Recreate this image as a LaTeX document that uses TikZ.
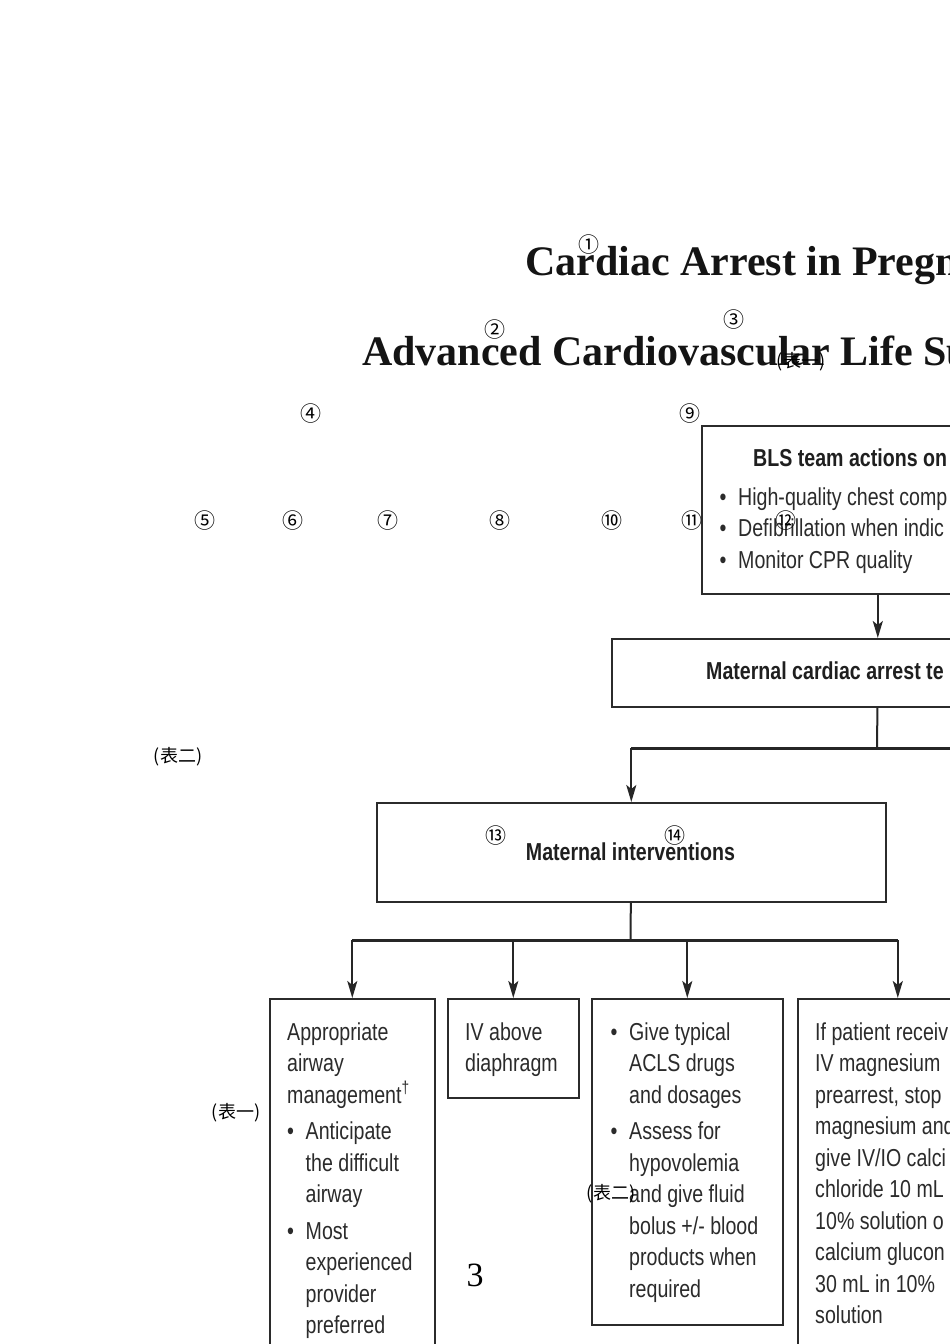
\documentclass[tikz,border=0pt]{standalone}
\usepackage{fontspec}
\usetikzlibrary{arrows.meta}
\newfontfamily\condf{Liberation Sans}[FakeStretch=0.8]
\newfontfamily\titlef{Liberation Serif}
\newfontfamily\cjkf{Noto Sans CJK SC}
\definecolor{inkc}{gray}{0.17}
\newcommand{\bodyf}{\condf\fontsize{24.5}{31.5}\selectfont}
\newcommand{\itm}{\makebox[18.5pt][l]{\textbullet}}
\newcommand{\ind}{\hspace*{18.5pt}}

\begin{document}
\begin{tikzpicture}[x=1pt,y=-1pt,
  box/.style={draw=inkc,line width=1.6pt,anchor=north west,inner sep=0pt},
  txt/.style={anchor=base west,inner sep=0pt,font=\bodyf,text=inkc},
  hdr/.style={txt,font=\bodyf\bfseries,text=black!88},
  ttl/.style={anchor=base west,inner sep=0pt,font=\titlef\bfseries\fontsize{42}{42}\selectfont,text=black!92},
  arr/.style={-{Stealth[length=17pt,width=10pt,inset=4pt]},line width=2pt,draw=black!85},
  conn/.style={line width=2pt,draw=black!85},
  bar/.style={line width=3pt,draw=black!85},
  numtag/.style={font=\cjkf\fontsize{21}{21}\selectfont,inner sep=0pt},
  tabtag/.style={font=\cjkf\fontsize{18}{18}\selectfont,inner sep=0pt}]
\useasboundingbox (0,0) rectangle (950,1344);
\clip (0,0) rectangle (950,1344);
\fill[white] (0,0) rectangle (950,1344);

\node[ttl] (title1) at (525,275) {Cardiac Arrest in Pregn};
\node[ttl] (title2) at (362,365) {Advanced Cardiovascular Life Su};

\node[box,minimum width=352,minimum height=168] (bls) at (701,425) {};
\node[hdr] (blshead) at (753,466) {BLS team actions on};
\node[txt] (blsitems) at (719.5,505) {\begin{tabular}[t]{@{}l@{}}\itm High-quality chest comp\\ \itm Defibrillation when indic\\ \itm Monitor CPR quality\end{tabular}};
\node[box,minimum width=532,minimum height=68] (team) at (611,638) {};
\node[hdr] (teamlbl) at (706,679) {Maternal cardiac arrest te};
\draw[arr] (bls) -- (team);
\coordinate (split) at (877,748);
\draw[conn] (team) -- (split);
\node[box,minimum width=509,minimum height=99] (mat) at (376,802) {};
\node[hdr,anchor=base] (matlbl) at (630.5,860) {Maternal interventions};
\draw[bar] (split -| mat.north) -- (960,748);
\draw[arr] (split -| mat.north) -- (mat.north);

\coordinate (fork) at (630.5,940);
\draw[conn] (mat) -- (fork);
\node[box,minimum width=165,minimum height=420] (b1) at (269,998) {};
\node[box,minimum width=131,minimum height=99] (b2) at (447,998) {};
\node[box,minimum width=191,minimum height=326] (b3) at (591,998) {};
\node[box,minimum width=200,minimum height=420] (b4) at (797,998) {};
\draw[bar] (fork -| b1.north) -- (fork -| b4.north);
\foreach \b in {b1,b2,b3,b4}
  \draw[arr] (fork -| \b.north) -- (\b.north);

\node[txt] (airway) at (287,1040) {\begin{tabular}[t]{@{}l@{}}Appropriate\\ airway\\ management\textsuperscript{\textdagger}\\[5pt]
  \itm Anticipate\\ \ind the difficult\\ \ind airway\\[5pt]
  \itm Most\\ \ind experienced\\ \ind provider\\ \ind preferred\end{tabular}};
\node[txt] (ivline) at (465,1040) {\begin{tabular}[t]{@{}l@{}}IV above\\ diaphragm\end{tabular}};
\node[txt] (drugs) at (610.5,1040) {\begin{tabular}[t]{@{}l@{}}\itm Give typical\\ \ind ACLS drugs\\ \ind and dosages\\[5pt]
  \itm Assess for\\ \ind hypovolemia\\ \ind and give fluid\\ \ind bolus +/- blood\\ \ind products when\\ \ind required\end{tabular}};
\node[txt] (magnes) at (815,1040) {\begin{tabular}[t]{@{}l@{}}If patient receiv\\ IV magnesium\\ prearrest, stop\\ magnesium and\\ give IV/IO calci\\ chloride 10 mL\\ 10\% solution o\\ calcium glucon\\ 30 mL in 10\%\\ solution\end{tabular}};

\foreach \t/\x/\y [count=\i] in {①/589/245,②/495/330,③/734/320,④/311/414,⑤/205/521,⑥/293/521,⑦/388/521,⑧/500/521,⑨/690/414,⑩/612/521,⑪/692/521,⑫/786/521,⑬/496/836,⑭/675/836}
  \node[numtag] (n\i) at (\x,\y) {\t};
\node[tabtag] (tabA) at (801,362) {(表一)};
\node[tabtag] (tabB) at (178,757) {(表二)};
\node[tabtag] (tabC) at (236,1113) {(表一)};
\node[tabtag] (tabD) at (611,1194) {(表二)};
\node[inner sep=0pt,font=\titlef\fontsize{34}{34}\selectfont] (pageno) at (475,1275) {3};
\end{tikzpicture}
\end{document}
